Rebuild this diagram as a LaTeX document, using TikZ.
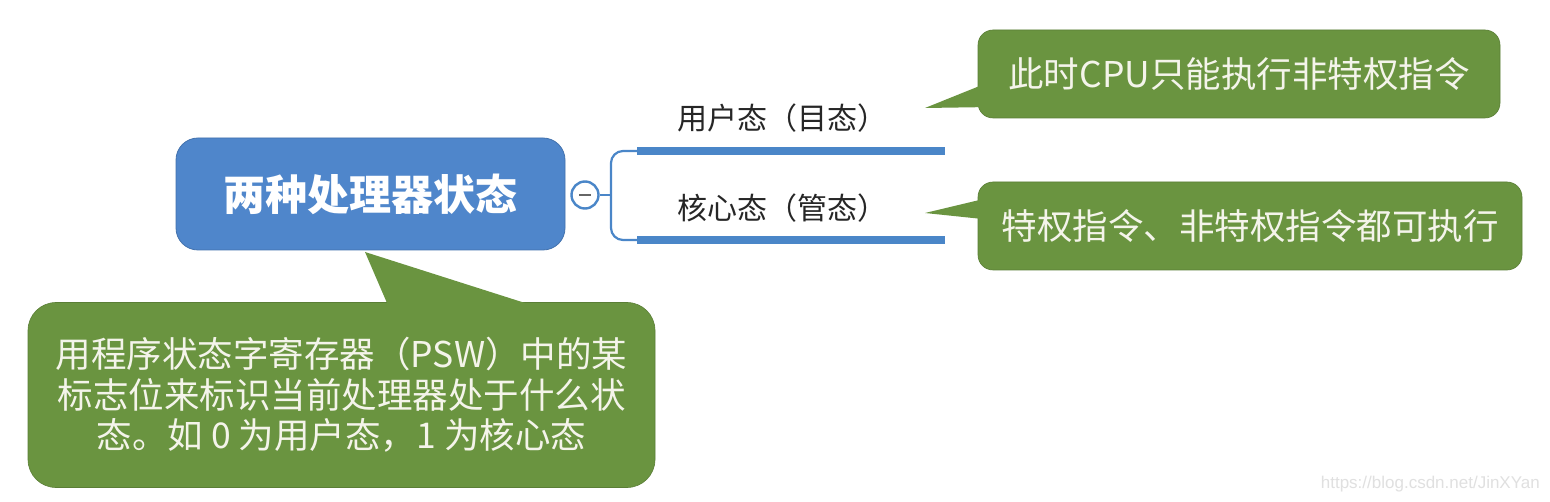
\documentclass[tikz,border=0pt]{standalone}
\usepackage{fontspec}
\setmainfont{Noto Sans CJK SC}
\newfontfamily\wmfont{Liberation Sans}
\definecolor{mainblue}{HTML}{4F86CB}
\definecolor{linblue}{HTML}{4A86C8}
\definecolor{callgreen}{HTML}{6A9440}
\definecolor{calltext}{HTML}{F4F4EA}
\tikzset{
  mainbox/.style={fill=mainblue, draw=mainblue!85!black, line width=0.8pt, rounded corners=22pt, minimum width=389pt, minimum height=112pt, text=white, font=\fontsize{42}{48}\selectfont\bfseries},
  callbox/.style={fill=callgreen, draw=callgreen!85!black, line width=0.6pt, rounded corners=15pt, text=calltext, font=\fontsize{35.5}{40.5}\selectfont, align=center, inner sep=0pt},
  callptr/.style={fill=callgreen, draw=none},
  branchlbl/.style={text=black!85, font=\fontsize{30}{34}\selectfont, inner sep=0pt},
  thickline/.style={draw=linblue, line width=8pt},
  thinline/.style={draw=linblue, line width=2.2pt},
}
\begin{document}
\begin{tikzpicture}[x=1pt,y=-1pt]
\useasboundingbox (0,0) rectangle (1550,502);
\fill[white] (0,0) rectangle (1550,502);
% main node
\node[mainbox] (main) at (370.5,194) {两种处理器状态};
% collapse circle
\node[circle, draw=linblue, line width=2.4pt, fill=white, minimum size=27pt, inner sep=0pt] (coll) at (585,195) {};
\draw[black!60, line width=1.8pt] ([xshift=-6pt]coll.center) -- ([xshift=6pt]coll.center);
% branch lines
\coordinate (b1s) at (637,151);
\coordinate (b1e) at (945,151);
\coordinate (b2s) at (637,240);
\coordinate (b2e) at (945,240);
\coordinate (fork) at (611,195);
\draw[thinline] (coll.east) -- (fork);
\draw[thinline, rounded corners=12pt] ([xshift=4pt]b1s) -| (fork) |- ([xshift=4pt]b2s);
\draw[thickline] (b1s) -- (b1e);
\draw[thickline] (b2s) -- (b2e);
\node[branchlbl] (l1) at (782,118) {用户态（目态）};
\node[branchlbl] (l2) at (782,208) {核心态（管态）};
% callout 1
\coordinate (t1) at (925,108);
\node[callbox, minimum width=522pt, minimum height=88pt] (c1) at (1239,74) {此时CPU只能执行非特权指令};
\fill[callptr] (t1) -- (992,81) -- (992,107) -- cycle;
% callout 2
\coordinate (t2) at (925,213);
\node[callbox, minimum width=544pt, minimum height=88pt] (c2) at (1250,226) {特权指令、非特权指令都可执行};
\fill[callptr] (t2) -- (992,197) -- (992,220) -- cycle;
% callout 3
\coordinate (t3) at (365,252);
\node[callbox, rounded corners=28pt, minimum width=627pt, minimum height=185pt] (c3) at (341.5,395) {用程序状态字寄存器（PSW）中的某\\标志位来标识当前处理器处于什么状\\态。如 0 为用户态，1 为核心态};
\fill[callptr] (t3) -- (390,310) -- (547,310) -- cycle;
% watermark
\node[text=black!12, font=\wmfont\fontsize{17}{20}\selectfont, anchor=east, inner sep=0pt] (wm) at (1540,484) {https://blog.csdn.net/JinXYan};
\end{tikzpicture}
\end{document}
